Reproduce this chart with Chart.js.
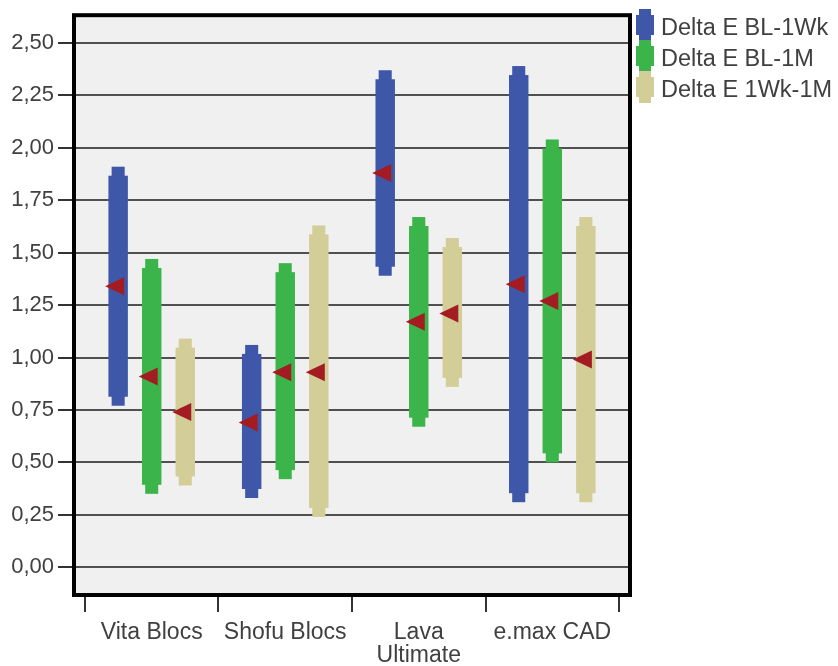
<!DOCTYPE html>
<html>
<head>
<meta charset="utf-8">
<script src="https://cdn.jsdelivr.net/npm/chart.js@4.4.1/dist/chart.umd.min.js"></script>
<style>
  html, body { margin: 0; padding: 0; background: #ffffff; }
  #wrap { position: relative; width: 838px; height: 666px; }
  #legend { position: absolute; left: 634px; top: 9px; font-family: "Liberation Sans", Arial, sans-serif; font-size: 23.5px; color: #404040; }
  .item { position: relative; height: 31px; }
  .item .icon { position: absolute; left: 2px; top: 0; width: 18px; height: 32px; }
  .item .cap { position: absolute; left: 3px; width: 12px; top: 0; bottom: 0; }
  .item .body { position: absolute; left: 0; width: 18px; top: 6px; bottom: 6px; }
  .item span { position: absolute; left: 27px; top: 5px; white-space: nowrap; line-height: 1.15; }
</style>
</head>
<body>
<div id="wrap">
  <canvas id="chart" width="838" height="666"></canvas>
  <div id="legend"></div>
</div>
<script>
// ===== データ =====
const categories = ["Vita Blocs", "Shofu Blocs", ["Lava", "Ultimate"], "e.max CAD"];
const seriesNames = ["Delta E BL-1Wk", "Delta E BL-1M", "Delta E 1Wk-1M"];
const seriesColors = ["#3f57a8", "#3bb54a", "#d3cd98"];

// 各系列の下限・上限・平均
const bl1wkLow  = [0.77, 0.33, 1.39, 0.31];
const bl1wkHigh = [1.91, 1.06, 2.37, 2.39];
const bl1wkMean = [1.34, 0.69, 1.88, 1.35];

const bl1mLow  = [0.35, 0.42, 0.67, 0.50];
const bl1mHigh = [1.47, 1.45, 1.67, 2.04];
const bl1mMean = [0.91, 0.93, 1.17, 1.27];

const wk1mLow  = [0.39, 0.24, 0.86, 0.31];
const wk1mHigh = [1.09, 1.63, 1.57, 1.67];
const wk1mMean = [0.74, 0.93, 1.21, 0.99];

const yTickValues = [0, 0.25, 0.5, 0.75, 1, 1.25, 1.5, 1.75, 2, 2.25, 2.5];

const lows  = [bl1wkLow, bl1mLow, wk1mLow];
const highs = [bl1wkHigh, bl1mHigh, wk1mHigh];
const means = [bl1wkMean, bl1mMean, wk1mMean];

const FONT = "'Liberation Sans', Arial, sans-serif";

// ===== 凡例（HTML） =====
const legendEl = document.getElementById("legend");
seriesNames.forEach(function (name, i) {
  const item = document.createElement("div");
  item.className = "item";
  item.innerHTML =
    '<div class="icon"><div class="cap" style="background:' + seriesColors[i] + '"></div>' +
    '<div class="body" style="background:' + seriesColors[i] + '"></div></div>' +
    '<span>' + name + '</span>';
  legendEl.appendChild(item);
});

// ===== バー形状・枠線を描くプラグイン =====
const shapePlugin = {
  id: "shapes",
  beforeDraw(chart) {
    const a = chart.chartArea;
    const ctx = chart.ctx;
    ctx.save();
    ctx.fillStyle = "#f0f0f0";
    ctx.fillRect(a.left, a.top, a.right - a.left, a.bottom - a.top);
    ctx.restore();
  },
  beforeDatasetDraw(chart, args) {
    const ctx = chart.ctx;
    const yScale = chart.scales.y;
    const di = args.index;
    const color = seriesColors[di];
    ctx.save();
    args.meta.data.forEach(function (el, i) {
      const top = Math.min(el.y, el.base);
      const bottom = Math.max(el.y, el.base);
      const w = el.width;
      const nw = w * 0.67;
      ctx.fillStyle = color;
      // 細いキャップ（全範囲）
      ctx.fillRect(el.x - nw / 2, top, nw, bottom - top);
      // 太い本体
      ctx.fillRect(el.x - w / 2, top + 9, w, bottom - top - 18);
      // 平均値の三角形（左向き）
      const my = yScale.getPixelForValue(means[di][i]);
      ctx.fillStyle = "#a31c22";
      ctx.beginPath();
      ctx.moveTo(el.x - 13, my);
      ctx.lineTo(el.x + 6, my - 9);
      ctx.lineTo(el.x + 6, my + 9);
      ctx.closePath();
      ctx.fill();
    });
    ctx.restore();
    return false;
  },
  afterDraw(chart) {
    const a = chart.chartArea;
    const ctx = chart.ctx;
    const xScale = chart.scales.x;
    ctx.save();
    // 副目盛り（カテゴリ境界）
    ctx.strokeStyle = "#333333";
    ctx.lineWidth = 2;
    for (let i = 0; i <= categories.length; i++) {
      const x = Math.round(xScale.getPixelForValue(i - 0.5));
      ctx.beginPath();
      ctx.moveTo(x, a.bottom);
      ctx.lineTo(x, a.bottom + 12);
      ctx.stroke();
    }
    // 外枠
    ctx.strokeStyle = "#000000";
    ctx.lineWidth = 4;
    ctx.strokeRect(a.left - 2, a.top - 2, a.right - a.left + 4, a.bottom - a.top + 4);
    ctx.restore();
  }
};

// ===== データセット =====
const datasets = seriesNames.map(function (name, s) {
  return {
    label: name,
    data: categories.map(function (c, i) {
      return { x: i, y: [lows[s][i], highs[s][i]] };
    }),
    backgroundColor: seriesColors[s],
    categoryPercentage: 0.754,
    barPercentage: 0.58
  };
});

new Chart(document.getElementById("chart"), {
  type: "bar",
  data: { datasets: datasets },
  plugins: [shapePlugin],
  options: {
    responsive: false,
    animation: false,
    layout: { padding: { left: 0, right: 210, top: 14, bottom: 0 } },
    plugins: {
      legend: { display: false },
      tooltip: { enabled: false }
    },
    scales: {
      x: {
        type: "linear",
        min: -0.567,
        max: 3.567,
        offset: false,
        afterBuildTicks: function (scale) {
          scale.ticks = categories.map(function (c, i) { return { value: i }; });
        },
        afterFit: function (scale) { scale.height = 73; },
        ticks: {
          autoSkip: false,
          maxRotation: 0,
          padding: 9,
          color: "#404040",
          font: { family: FONT, size: 23, lineHeight: 1.0 },
          callback: function (v) { return categories[v]; }
        },
        grid: {
          drawOnChartArea: false,
          tickLength: 19,
          color: "#333333",
          lineWidth: 2
        },
        border: { display: false }
      },
      y: {
        min: -0.123,
        max: 2.623,
        afterBuildTicks: function (scale) {
          scale.ticks = yTickValues.map(function (v) { return { value: v }; });
        },
        afterFit: function (scale) { scale.width = 76; },
        ticks: {
          padding: 4,
          color: "#404040",
          font: { family: FONT, size: 22 },
          callback: function (v) { return v.toFixed(2).replace(".", ","); }
        },
        grid: {
          color: "#505050",
          lineWidth: 2,
          tickLength: 18,
          tickColor: "#333333",
          tickWidth: 2
        },
        border: { display: false }
      }
    }
  }
});
</script>
</body>
</html>
